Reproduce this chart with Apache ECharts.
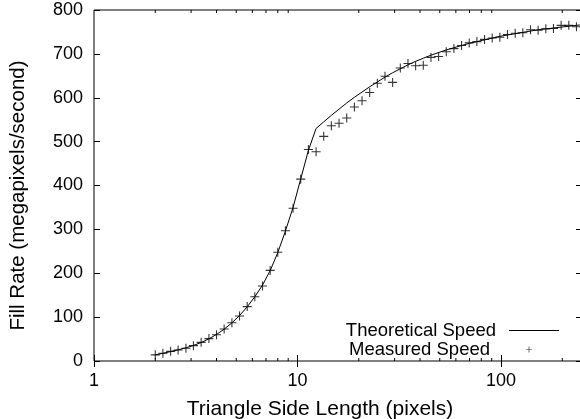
<!DOCTYPE html>
<html>
<head>
<meta charset="utf-8">
<script src="https://cdn.jsdelivr.net/npm/echarts@6/dist/echarts.min.js"></script>
<style>
html, body { margin: 0; padding: 0; background: #fff; }
#main { width: 580px; height: 419px; }
</style>
</head>
<body>
<div id="main"></div>
<script>
// side length of the triangles (pixels)
var sideLength = [2, 2.18, 2.38, 2.59, 2.83, 3.08, 3.36, 3.67, 4, 4.36, 4.76, 5.19, 5.66, 6.17,
    6.73, 7.34, 8, 8.72, 9.51, 10.37, 11.31, 12.34, 13.45, 14.67, 16, 17.45, 19.03, 20.75,
    22.63, 24.68, 26.91, 29.34, 32, 34.9, 38.05, 41.5, 45.25, 49.35, 53.82, 58.69, 64, 69.79,
    76.11, 83, 90.51, 98.7, 107.6, 117.4, 128, 139.6, 152.2, 166, 181, 197.4, 215.3, 234.8];
// measured fill rate (megapixels/second)
var measured = [14, 17.5, 22, 25, 29, 35, 42.5, 51, 60, 73, 87, 102.5, 124, 146.5,
    171, 206.5, 248, 297, 348, 414.5, 482, 477, 512, 536, 542, 554, 579, 593,
    612, 633, 649, 635, 668, 678, 673, 674, 692, 694, 705, 712, 719, 725,
    728, 733, 736, 738, 744, 747, 748, 755, 754, 757, 758, 765, 765, 762];
// theoretical curve, same sizes plus one past the right edge
var theoSide = sideLength.concat([256]);
var theoretical = [14, 17.5, 21.5, 25.5, 30, 35.5, 42, 50.5, 60.5, 72.5, 87, 103.5, 123.5, 146.5,
    173, 206, 247, 296, 350, 415, 480, 530, 545, 560, 574, 588, 601, 613,
    625, 636, 647, 657, 666, 675, 683, 690, 697, 703, 709, 714, 719, 724,
    728, 732, 736, 740, 743, 746, 749, 752, 755, 757, 759, 761, 763, 765, 767];
var xTickLabels = [1, 10, 100];
var minorTicks = [2, 3, 4, 5, 6, 7, 8, 9, 20, 30, 40, 50, 60, 70, 80, 90, 200];

var font = '"Liberation Sans", Helvetica, Arial, sans-serif';
var plusPath = 'path://M4.4,0h1.2v4.4h4.4v1.2h-4.4v4.4h-1.2v-4.4h-4.4v-1.2h4.4z';

var myChart = echarts.init(document.getElementById('main'), null, {renderer: 'canvas'});

function pairs(xs, ys) {
    return xs.map(function (x, i) { return [x, ys[i]]; });
}

var xBase = {
    type: 'log',
    logBase: 10,
    min: 1,
    max: 250,
    axisLine: {show: false},
    splitLine: {show: false},
    axisTick: {inside: true, length: 6, lineStyle: {color: '#000'}},
    minorTick: {show: false}
};
var yBase = {
    type: 'value',
    min: 0,
    max: 800,
    interval: 100,
    axisLine: {show: false},
    splitLine: {show: false},
    axisTick: {inside: true, length: 6, lineStyle: {color: '#000'}}
};

var option = {
    animation: false,
    textStyle: {fontFamily: font},
    grid: {
        left: 94, top: 10, right: -2, bottom: 58,
        outerBoundsMode: 'none',
        containLabel: false,
        show: true, borderColor: '#000', borderWidth: 1, backgroundColor: 'transparent'
    },
    legend: [{
        data: ['Theoretical Speed'],
        orient: 'vertical',
        align: 'right',
        right: 16, top: 316,
        icon: 'rect',
        itemWidth: 50, itemHeight: 1,
        textStyle: {fontFamily: font, fontSize: 18.5, color: '#000', padding: [0, 8, 0, 0]},
        selectedMode: false
    }, {
        data: ['Measured Speed'],
        orient: 'vertical',
        align: 'right',
        right: 43, top: 335,
        icon: plusPath,
        itemWidth: 6, itemHeight: 6,
        textStyle: {fontFamily: font, fontSize: 18.5, color: '#000', padding: [0, 31, 0, 0]},
        selectedMode: false
    }],
    xAxis: [
        Object.assign({}, xBase, {
            position: 'bottom',
            name: 'Triangle Side Length (pixels)',
            nameLocation: 'middle',
            nameGap: 38,
            nameTextStyle: {fontFamily: font, fontSize: 21, color: '#000', padding: [0, 36, 0, 0]},
            axisLabel: {
                fontFamily: font, fontSize: 18, color: '#000', margin: 11,
                formatter: function (v) {
                    return xTickLabels.indexOf(Math.round(v)) >= 0 ? String(Math.round(v)) : '';
                }
            }
        }),
        Object.assign({}, xBase, {position: 'top', axisLabel: {show: false}})
    ],
    yAxis: [
        Object.assign({}, yBase, {
            position: 'left',
            name: 'Fill Rate (megapixels/second)',
            nameLocation: 'middle',
            nameGap: 65,
            nameTextStyle: {fontFamily: font, fontSize: 20.5, color: '#000', padding: [0, 20, 0, 0]},
            axisLabel: {fontFamily: font, fontSize: 18, color: '#000', margin: 11}
        }),
        Object.assign({}, yBase, {position: 'right', axisLabel: {show: false}})
    ],
    series: [{
        name: 'Theoretical Speed',
        type: 'line',
        data: pairs(theoSide, theoretical),
        showSymbol: false,
        symbol: 'none',
        lineStyle: {color: '#000', width: 1},
        itemStyle: {color: '#000'},
        clip: true,
        z: 3
    }, {
        name: 'Measured Speed',
        type: 'scatter',
        data: pairs(sideLength, measured),
        symbol: plusPath,
        symbolSize: 9,
        itemStyle: {color: '#000'},
        z: 4
    }, {
        // log-axis minor ticks (2..9 of each decade), bottom and top
        type: 'custom',
        data: minorTicks.map(function (v) { return [v]; }),
        encode: {x: 0},
        silent: true,
        renderItem: function (params, api) {
            var v = api.value(0);
            var b = api.coord([v, 0]);
            var t = api.coord([v, 800]);
            var st = {stroke: '#000', lineWidth: 1};
            return {
                type: 'group',
                children: [
                    {type: 'line', shape: {x1: b[0], y1: b[1], x2: b[0], y2: b[1] - 3}, style: st},
                    {type: 'line', shape: {x1: t[0], y1: t[1], x2: t[0], y2: t[1] + 3}, style: st}
                ]
            };
        },
        z: 5
    }]
};
myChart.setOption(option);
</script>
</body>
</html>
